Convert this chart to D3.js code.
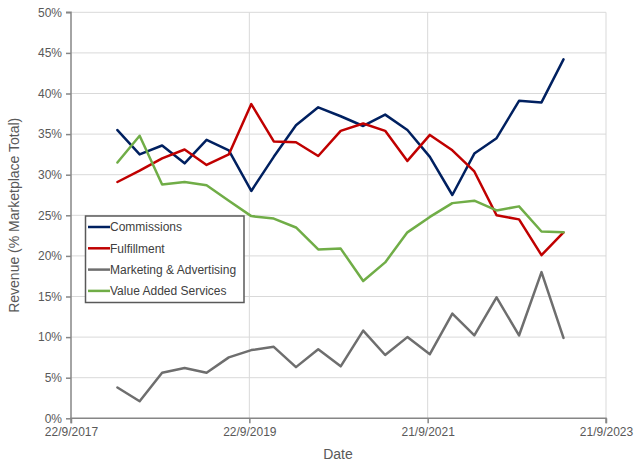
<!DOCTYPE html>
<html><head><meta charset="utf-8">
<script src="https://cdn.jsdelivr.net/npm/d3@7"></script>
<style>
html,body{margin:0;padding:0;background:#fff;}
text{font-family:"Liberation Sans",Arial,sans-serif;}
</style></head>
<body><svg id="c" width="640" height="465"></svg>
<script>
const dates = ["2018-03-31","2018-06-30","2018-09-30","2018-12-31","2019-03-31","2019-06-30","2019-09-30","2019-12-31","2020-03-31","2020-06-30","2020-09-30","2020-12-31","2021-03-31","2021-06-30","2021-09-30","2021-12-31","2022-03-31","2022-06-30","2022-09-30","2022-12-31","2023-03-31"];
const commissions = [35.5,32.5,33.6,31.4,34.3,33.0,28.0,32.2,36.1,38.3,37.2,36.0,37.4,35.5,32.2,27.5,32.6,34.5,39.1,38.9,44.2];
const fulfillment = [29.1,30.5,32.0,33.1,31.2,32.5,38.7,34.1,34.0,32.3,35.4,36.3,35.4,31.7,34.9,33.0,30.4,25.0,24.5,20.1,22.9];
const marketing = [3.8,2.1,5.6,6.2,5.6,7.5,8.4,8.8,6.3,8.5,6.4,10.8,7.8,10.0,7.9,12.9,10.2,14.9,10.2,18.0,9.9];
const valueAdded = [31.5,34.8,28.8,29.1,28.7,26.8,24.9,24.6,23.5,20.8,20.9,16.9,19.2,22.9,24.8,26.5,26.8,25.6,26.1,23.0,22.9];
const seriesNames = ["Commissions","Fulfillment","Marketing & Advertising","Value Added Services"];
const seriesColors = ["#002060","#c00000","#6e6e6e","#70ad47"];
const xTickDates = ["2017-09-22","2019-09-22","2021-09-21","2023-09-21"];
const xTickLabels = ["22/9/2017","22/9/2019","21/9/2021","21/9/2023"];
const yTicks = [0,5,10,15,20,25,30,35,40,45,50];

const parse = d3.timeParse("%Y-%m-%d");
const svg = d3.select("#c");
const L = 71, R = 606, T = 12.3, B = 418.3;
const x = d3.scaleTime().domain([parse(xTickDates[0]), parse(xTickDates[3])]).range([L, R]);
const y = d3.scaleLinear().domain([0, 50]).range([B, T]);

// gridlines
const g = svg.append("g");
g.selectAll("line.h").data(yTicks.filter(v=>v>0)).enter().append("line")
  .attr("x1", L).attr("x2", R).attr("y1", d=>y(d)).attr("y2", d=>y(d))
  .attr("stroke", "#d9d9d9").attr("stroke-width", 1);
g.selectAll("line.v").data(xTickDates.slice(1)).enter().append("line")
  .attr("x1", d=>x(parse(d))).attr("x2", d=>x(parse(d))).attr("y1", T).attr("y2", B)
  .attr("stroke", "#d9d9d9").attr("stroke-width", 1);

// axes
const yAxis = d3.axisLeft(y).tickValues(yTicks).tickFormat(d=>d+"%").tickSize(5).tickPadding(4);
const ya = svg.append("g").attr("transform", `translate(${L},0)`).call(yAxis);
const xAxis = d3.axisBottom(x).tickValues(xTickDates.map(parse)).tickFormat((d,i)=>xTickLabels[i]).tickSize(5).tickPadding(4);
const xa = svg.append("g").attr("transform", `translate(0,${B})`).call(xAxis);
[ya, xa].forEach(a=>{
  a.select(".domain").attr("stroke", "#868686").attr("stroke-width", 1.5);
  a.selectAll(".tick line").attr("stroke", "#868686").attr("stroke-width", 1.5);
  a.selectAll(".tick text").attr("fill", "#595959").attr("font-size", 12)
    .style("font-family", "'Liberation Sans',Arial,sans-serif");
});
ya.select(".domain").attr("d", `M-5,${y(50)}H0V${y(0)}`);
xa.select(".domain").attr("d", `M${L},5V0H${R}V5`);

// lines
const allSeries = [commissions, fulfillment, marketing, valueAdded];
const line = d3.line().x((d,i)=>x(parse(dates[i]))).y(d=>y(d));
allSeries.forEach((s, k)=>{
  svg.append("path").datum(s).attr("d", line).attr("fill", "none")
    .attr("stroke", seriesColors[k]).attr("stroke-width", 2.5)
    .attr("stroke-linejoin", "round").attr("stroke-linecap", "round");
});

// legend
const lg = svg.append("g");
lg.append("rect").attr("x", 85.5).attr("y", 216).attr("width", 158.5).attr("height", 86.5)
  .attr("fill", "#fff").attr("stroke", "#595959").attr("stroke-width", 1.5);
seriesNames.forEach((n, k)=>{
  const yy = 227 + k*21.3;
  lg.append("line").attr("x1", 88).attr("x2", 110).attr("y1", yy).attr("y2", yy)
    .attr("stroke", seriesColors[k]).attr("stroke-width", 2.5);
  lg.append("text").attr("x", 110).attr("y", yy).attr("dy", "0.35em")
    .attr("font-size", 12).attr("fill", "#404040").text(n);
});

// titles
svg.append("text").attr("x", 338).attr("y", 459).attr("text-anchor", "middle")
  .attr("font-size", 14).attr("fill", "#595959").text("Date");
svg.append("text").attr("transform", `translate(19,${(T+B)/2}) rotate(-90)`)
  .attr("text-anchor", "middle").attr("font-size", 14).attr("fill", "#595959")
  .text("Revenue (% Marketplace Total)");
</script></body></html>
